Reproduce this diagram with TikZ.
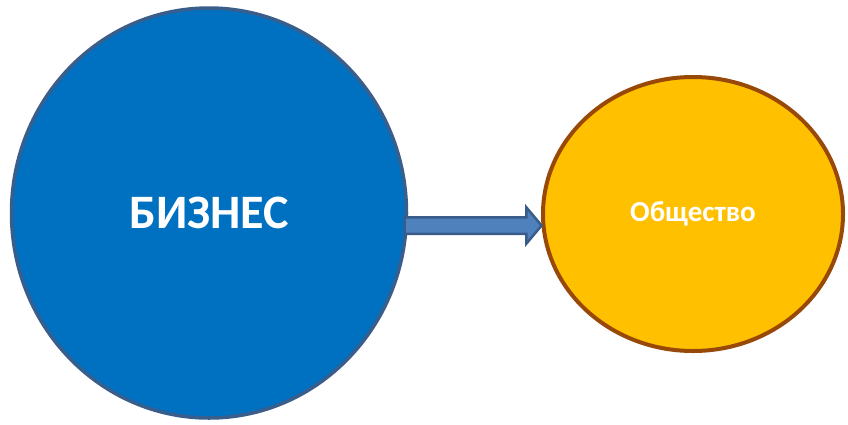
\documentclass[tikz,border=0pt]{standalone}
\usepackage{fontspec}
\setmainfont{Carlito}
\usepackage{tikz}
\usetikzlibrary{calc,shapes.geometric,shapes.arrows}
\definecolor{bizblue}{HTML}{0070C0}
\definecolor{bizedge}{HTML}{3A5E8C}
\definecolor{socgold}{HTML}{FFC000}
\definecolor{socedge}{HTML}{984807}
\definecolor{arrowfill}{HTML}{4F81BD}
\definecolor{arrowedge}{HTML}{385D8A}

\begin{document}
\begin{tikzpicture}[x=1pt,y=-1pt,
  bubble/.style={ellipse,inner sep=0pt,text=white,font=\bfseries}]
  \useasboundingbox (0,0) rectangle (848,424);
  \node[bubble,draw=bizedge,line width=3.5pt,fill=bizblue,
        minimum width=395pt,minimum height=410pt,
        font=\bfseries\fontsize{48}{48}\selectfont] (biz) at (209,213) {БИЗНЕС};
  \node[bubble,draw=socedge,line width=4pt,fill=socgold,
        minimum width=300pt,minimum height=274pt,
        font=\bfseries\fontsize{29}{29}\selectfont] (soc) at (693,214) {Общество};
  \node[single arrow,draw=arrowedge,line width=2.5pt,fill=arrowfill,
        inner xsep=0pt,inner ysep=7pt,minimum height=137pt,
        single arrow head extend=10pt,single arrow tip angle=100] (link)
        at ($(biz.east)!0.5!(soc.west)+(-5,12)$) {};
\end{tikzpicture}
\end{document}
